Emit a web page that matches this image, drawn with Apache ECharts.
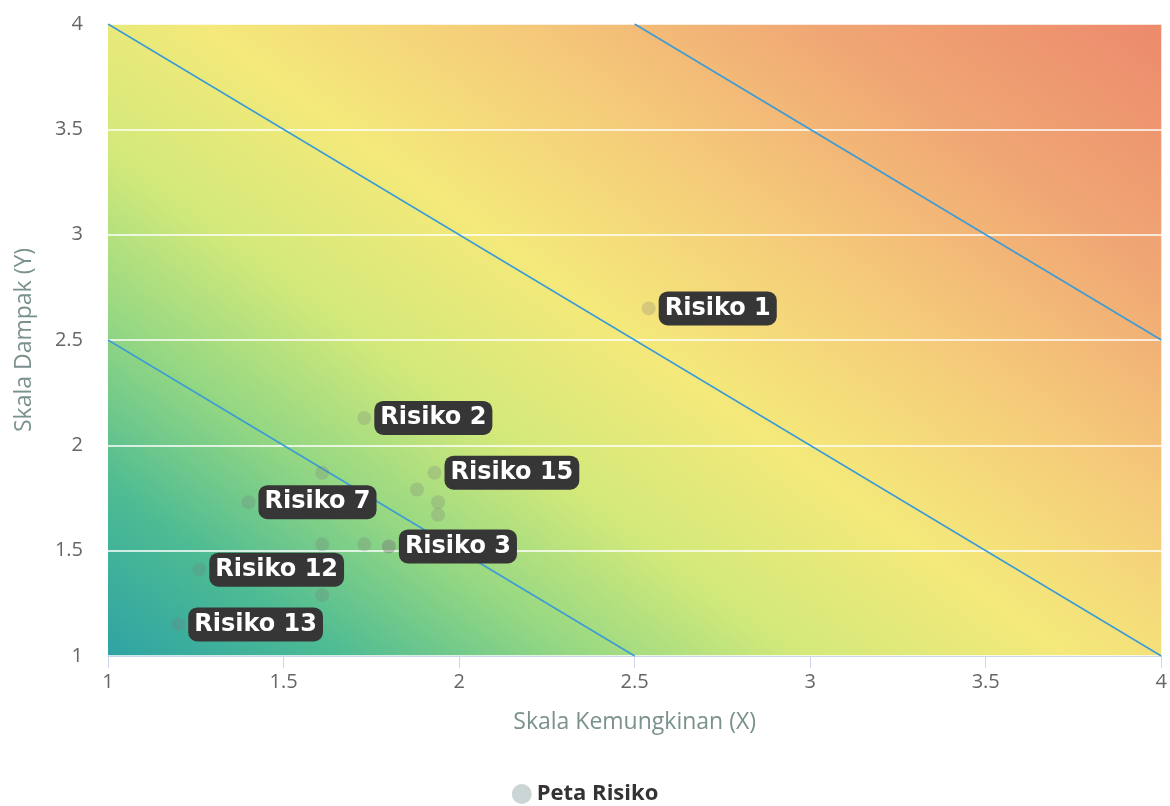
<!DOCTYPE html>
<html>
<head>
<meta charset="utf-8">
<script src="https://cdn.jsdelivr.net/npm/echarts@6/dist/echarts.min.js"></script>
<style>
  html, body { margin: 0; padding: 0; background: #fff; }
  #chart { width: 1170px; height: 806px; }
</style>
</head>
<body>
<div id="chart"></div>
<script>
// risk points (likelihood x, impact y)
const riskNames = ["Risiko 1", "Risiko 2", "Risiko 3", "Risiko 4", "Risiko 5", "Risiko 6", "Risiko 7", "Risiko 8",
  "Risiko 9", "Risiko 10", "Risiko 11", "Risiko 12", "Risiko 13", "Risiko 14", "Risiko 15"];
const riskX = [2.54, 1.73, 1.80, 1.61, 1.88, 1.94, 1.40, 1.94, 1.73, 1.61, 1.61, 1.26, 1.20, 1.80, 1.93];
const riskY = [2.65, 2.13, 1.52, 1.87, 1.79, 1.73, 1.73, 1.67, 1.53, 1.53, 1.29, 1.41, 1.15, 1.52, 1.87];
// labels that are visible in the picture (others hidden by overlap)
const labelledRisks = ["Risiko 1", "Risiko 2", "Risiko 3", "Risiko 7", "Risiko 12", "Risiko 13", "Risiko 15"];
// diagonal boundaries x + y = value
const boundaries = [3.5, 5, 6.5];
const axisTicks = [1, 1.5, 2, 2.5, 3, 3.5, 4];

const axisMin = axisTicks[0];
const axisMax = axisTicks[axisTicks.length - 1];

const chart = echarts.init(document.getElementById("chart"));

const scatterData = riskNames.map(function (name, i) {
  return {
    name: name,
    value: [riskX[i], riskY[i]],
    label: { show: labelledRisks.indexOf(name) !== -1 },
  };
});

const boundarySeries = boundaries.map(function (sum) {
  const x0 = Math.max(axisMin, sum - axisMax);
  const x1 = Math.min(axisMax, sum - axisMin);
  return {
    type: "line",
    silent: true,
    showSymbol: false,
    z: 2,
    lineStyle: { color: "#3b9bd6", width: 1.5 },
    data: [[x0, sum - x0], [x1, sum - x1]],
  };
});

const option = {
  animation: false,
  textStyle: { fontFamily: "Open Sans" },
  grid: {
    left: 108,
    right: 5,
    top: 24,
    bottom: 150,
    containLabel: false,
    show: true,
    borderWidth: 0,
    backgroundColor: {
      type: "linear",
      x: 0, y: 1, x2: 0.633, y2: -0.448,
      colorStops: [
        { offset: 0, color: "#2fa3a4" },
        { offset: 0.12, color: "#4dbb93" },
        { offset: 0.24, color: "#94d783" },
        { offset: 0.36, color: "#d2e97a" },
        { offset: 0.5, color: "#f4e97a" },
        { offset: 0.65, color: "#f5cc7a" },
        { offset: 0.82, color: "#f0a674" },
        { offset: 1, color: "#ec8a6c" },
      ],
    },
  },
  legend: {
    top: 778,
    left: "center",
    itemWidth: 20,
    itemHeight: 20,
    itemGap: 10,
    textStyle: { fontFamily: "Open Sans", fontWeight: "bold", fontSize: 22, color: "#333" },
    data: [{ name: "Peta Risiko", icon: "circle", itemStyle: { color: "#bfcaca" } }],
  },
  xAxis: {
    type: "value",
    min: axisMin,
    max: axisMax,
    interval: 0.5,
    name: "Skala Kemungkinan (X)",
    nameLocation: "middle",
    nameGap: 55,
    nameTextStyle: { fontSize: 23, color: "#7a918d" },
    axisLine: { show: true, lineStyle: { color: "#ccd6eb", width: 1 } },
    axisTick: { show: true, length: 12, lineStyle: { color: "#ccd6eb" } },
    axisLabel: { fontSize: 20, color: "#666", margin: 16 },
    splitLine: { show: false },
  },
  yAxis: {
    type: "value",
    min: axisMin,
    max: axisMax,
    interval: 0.5,
    name: "Skala Dampak (Y)",
    nameLocation: "middle",
    nameGap: 72,
    nameTextStyle: { fontSize: 23, color: "#7a918d" },
    axisLine: { show: false },
    axisTick: { show: false },
    axisLabel: { fontSize: 20, color: "#666", margin: 25 },
    splitLine: { show: true, lineStyle: { color: "#ffffff", width: 1.5 } },
  },
  series: boundarySeries.concat([
    {
      name: "Peta Risiko",
      type: "scatter",
      z: 5,
      symbolSize: 14,
      itemStyle: { color: "rgba(120,120,120,0.3)" },
      label: {
        opacity: 1,
        position: "right",
        distance: 3,
        formatter: "{b}",
        fontFamily: "DejaVu Sans",
        fontWeight: "bold",
        fontSize: 24,
        lineHeight: 28,
        color: "#ffffff",
        backgroundColor: "#363636",
        borderRadius: 9,
        padding: [3, 6, 3, 6],
      },
      data: scatterData,
    },
  ]),
};

chart.setOption(option);
</script>
</body>
</html>
